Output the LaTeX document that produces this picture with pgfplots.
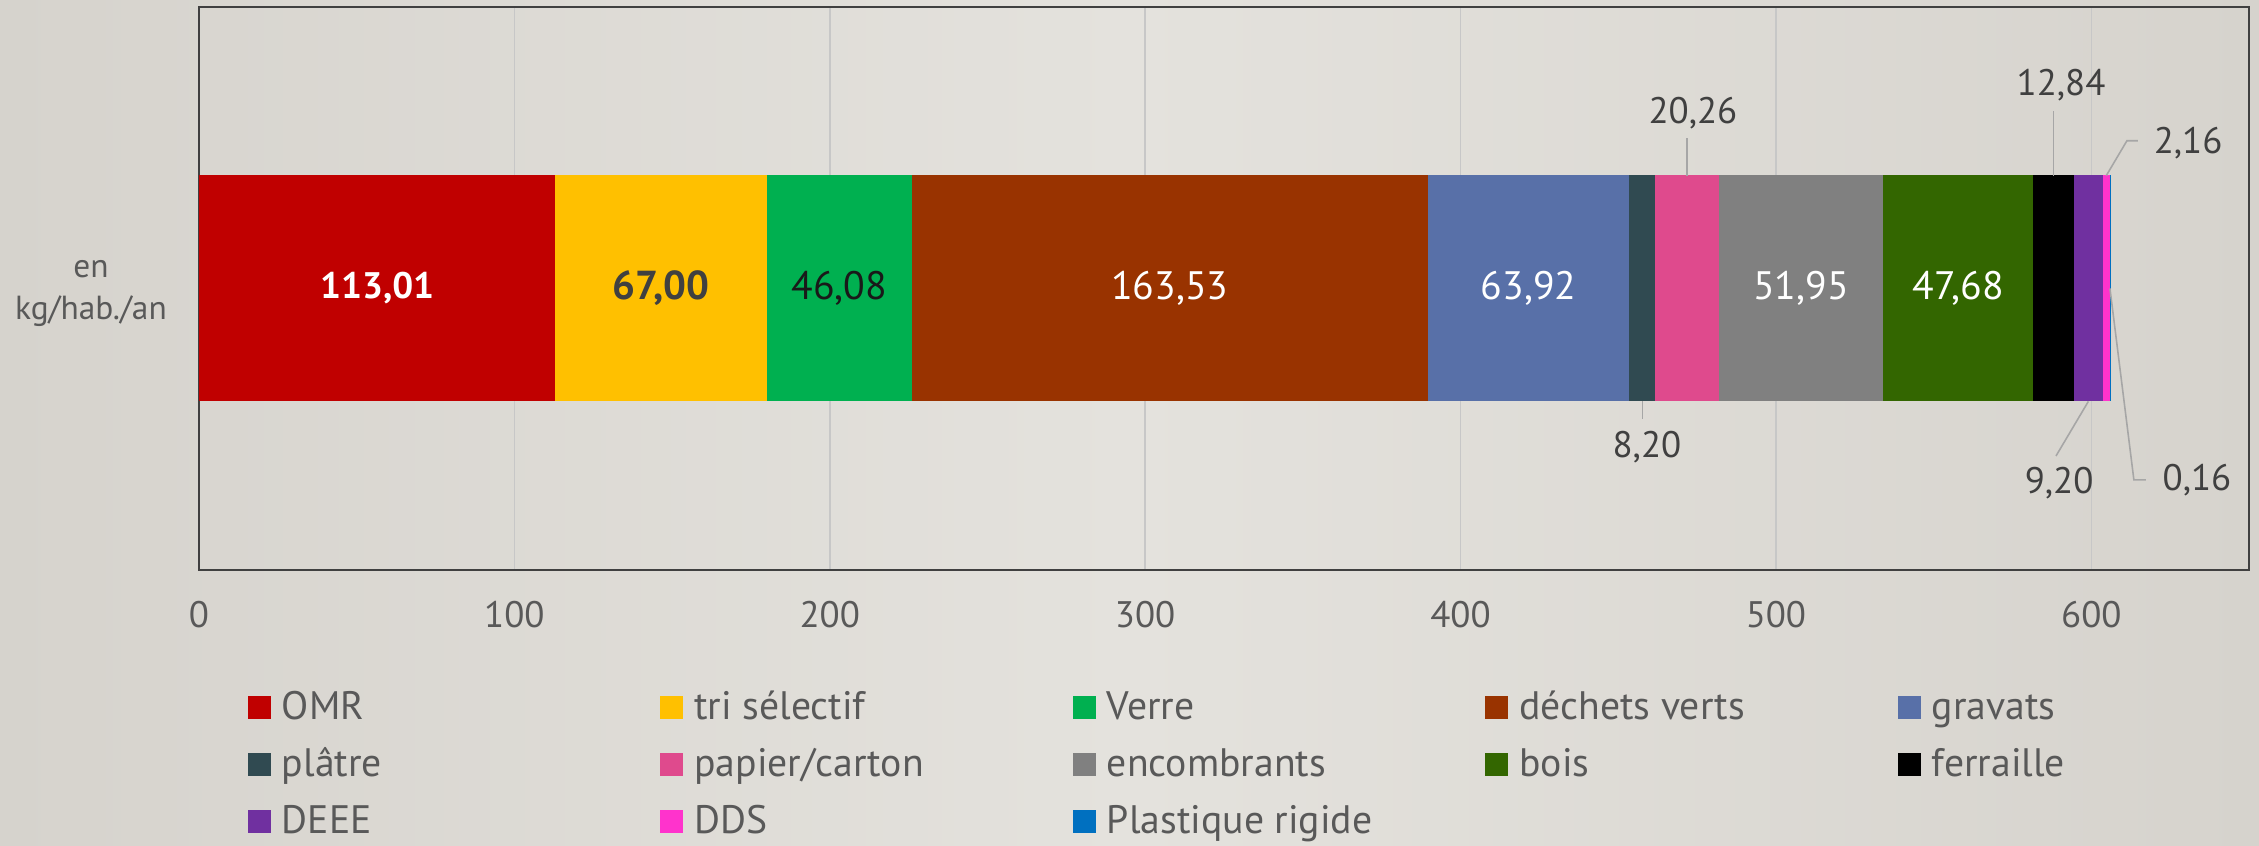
\documentclass[border=0pt]{standalone}
\usepackage{pgfplots}
\pgfplotsset{compat=1.18}
\usepackage{fontspec}
\setmainfont{PT Sans}
\definecolor{cOMR}{HTML}{C00000}
\definecolor{cTri}{HTML}{FFC000}
\definecolor{cVerre}{HTML}{00B050}
\definecolor{cDV}{HTML}{993300}
\definecolor{cGrav}{HTML}{5870A8}
\definecolor{cPlatre}{HTML}{304A51}
\definecolor{cPap}{HTML}{DF4A8D}
\definecolor{cEnc}{HTML}{808080}
\definecolor{cBois}{HTML}{336600}
\definecolor{cFer}{HTML}{000000}
\definecolor{cDEEE}{HTML}{7030A0}
\definecolor{cDDS}{HTML}{FF33CC}
\definecolor{cPlast}{HTML}{0070C0}
\definecolor{txtgrey}{HTML}{595959}
\definecolor{lblgrey}{HTML}{404040}
\definecolor{leadgrey}{HTML}{A6A6A6}
\definecolor{bgL}{HTML}{D6D3CD}
\definecolor{bgM}{HTML}{E4E2DD}
\definecolor{bgR}{HTML}{D6D3CD}
\newcommand{\lw}[1]{\makebox[3.675cm][l]{#1}}
\newcommand{\fs}{\fontsize{10.5}{12}\selectfont}
\newcommand{\fsin}{\fontsize{11.3}{12}\selectfont}
\newcommand{\fsleg}{\fontsize{11.3}{12}\selectfont}
\pgfplotsset{sq/.style={fill=#1, draw=none, legend image code/.code={\path[fill=#1] (0cm,-0.115cm) rectangle (0.23cm,0.115cm);}}}
\begin{document}
\begin{tikzpicture}
\path[use as bounding box] (-1.99cm,-2.76cm) rectangle (20.60cm,5.70cm);
\shade[left color=bgL, right color=bgR, middle color=bgM] (-1.99cm,-2.76cm) rectangle (20.60cm,5.70cm);
\begin{axis}[
  scale only axis,
  width=20.5cm, height=5.63cm,
  xbar stacked,
  bar width=2.26cm,
  xmin=0, xmax=650, ymin=-1, ymax=1,
  clip=false,
  axis line style={draw=black!75, line width=0.6pt},
  xtick={0,100,...,600},
  major tick length=0pt,
  xmajorgrids,
  major grid style={draw=black!22, line width=0.45pt},
  ytick=\empty,
  xticklabel style={anchor=center, yshift=-0.45cm, font=\fs, text=txtgrey},
  /pgf/number format/assume math mode=true,
  legend columns=5,
  legend style={at={(0,0)}, anchor=north west, xshift=0.49cm, yshift=-1.095cm,
    draw=none, fill=none, inner sep=0pt, outer sep=0pt, column sep=0pt, row sep=0pt,
    font=\fsleg, text=txtgrey,
    nodes={inner xsep=0.11cm, inner ysep=0pt, text height=0.40cm, text depth=0.17cm}},
  after end axis/.code={
    \node[align=center, text=txtgrey, font=\fontsize{9.5}{12}\selectfont] at ([xshift=-1.08cm, yshift=-0.05cm]axis cs:0,0) {en\\kg/hab./an};
    \node[text=white, font=\fs\bfseries] at (axis cs:56.505,0) {113,01};
    \node[text=lblgrey, font=\fontsize{11.5}{12}\selectfont\bfseries] at (axis cs:146.51,0) {67,00};
    \node[text=black!90, font=\fsin] at (axis cs:203.05,0) {46,08};
    \node[text=white, font=\fsin] at (axis cs:307.855,0) {163,53};
    \node[text=white, font=\fsin] at (axis cs:421.58,0) {63,92};
    \node[text=white, font=\fsin] at (axis cs:507.975,0) {51,95};
    \node[text=white, font=\fsin] at (axis cs:557.79,0) {47,68};
    \node[text=lblgrey, font=\fs] at (axis cs:473.7,0.623) {20,26};
    \node[text=lblgrey, font=\fs] at (axis cs:590.4,0.723) {12,84};
    \node[text=lblgrey, font=\fs] at (axis cs:630.7,0.517) {2,16};
    \node[text=lblgrey, font=\fs] at (axis cs:459.1,-0.563) {8,20};
    \node[text=lblgrey, font=\fs] at (axis cs:589.8,-0.691) {9,20};
    \node[text=lblgrey, font=\fs] at (axis cs:633.5,-0.680) {0,16};
    \draw[leadgrey, line width=0.45pt] (axis cs:471.87,0.401) -- (axis cs:471.87,0.535);
    \draw[leadgrey, line width=0.45pt] (axis cs:588.05,0.401) -- (axis cs:588.05,0.631);
    \draw[leadgrey, line width=0.45pt] (axis cs:604.75,0.401) -- (axis cs:611.3,0.525) -- (axis cs:614.8,0.525);
    \draw[leadgrey, line width=0.45pt] (axis cs:457.64,-0.401) -- (axis cs:457.64,-0.464);
    \draw[leadgrey, line width=0.45pt] (axis cs:599.07,-0.401) -- (axis cs:588.8,-0.595);
    \draw[leadgrey, line width=0.45pt] (axis cs:605.91,0) -- (axis cs:613.5,-0.680) -- (axis cs:617.3,-0.680);
  },
]
\addplot[sq=cOMR] coordinates {(113.01,0)}; \addlegendentry{\lw{OMR}}
\addplot[sq=cTri] coordinates {(67.00,0)}; \addlegendentry{\lw{tri sélectif}}
\addplot[sq=cVerre] coordinates {(46.08,0)}; \addlegendentry{\lw{Verre}}
\addplot[sq=cDV] coordinates {(163.53,0)}; \addlegendentry{\lw{déchets verts}}
\addplot[sq=cGrav] coordinates {(63.92,0)}; \addlegendentry{\lw{gravats}}
\addplot[sq=cPlatre] coordinates {(8.20,0)}; \addlegendentry{\lw{plâtre}}
\addplot[sq=cPap] coordinates {(20.26,0)}; \addlegendentry{\lw{papier/carton}}
\addplot[sq=cEnc] coordinates {(51.95,0)}; \addlegendentry{\lw{encombrants}}
\addplot[sq=cBois] coordinates {(47.68,0)}; \addlegendentry{\lw{bois}}
\addplot[sq=cFer] coordinates {(12.84,0)}; \addlegendentry{\lw{ferraille}}
\addplot[sq=cDEEE] coordinates {(9.20,0)}; \addlegendentry{\lw{DEEE}}
\addplot[sq=cDDS] coordinates {(2.16,0)}; \addlegendentry{\lw{DDS}}
\addplot[sq=cPlast] coordinates {(0.16,0)}; \addlegendentry{\lw{Plastique rigide}}
\end{axis}
\end{tikzpicture}
\end{document}
